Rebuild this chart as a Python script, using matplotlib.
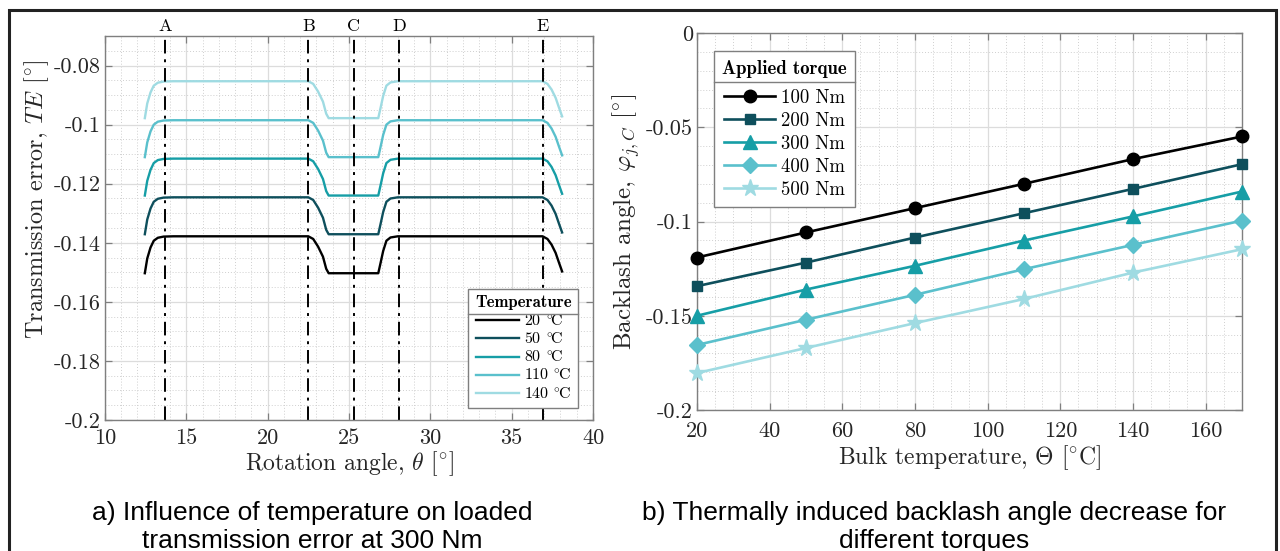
import matplotlib
matplotlib.use("Agg")
import matplotlib.pyplot as plt
from matplotlib.lines import Line2D
from matplotlib.patches import Rectangle
from matplotlib.ticker import FuncFormatter, MultipleLocator

plt.rcParams["font.family"] = "serif"
plt.rcParams["font.serif"] = ["cmr10", "DejaVu Serif"]
plt.rcParams["mathtext.fontset"] = "cm"
plt.rcParams["axes.unicode_minus"] = False

# ---- panel a: transmission error vs rotation angle ----
theta = [12.45, 12.6, 12.8, 13.0, 13.25, 13.6, 14.2, 22.5, 22.8, 23.1, 23.4, 23.6, 23.75,
         26.8, 26.95, 27.1, 27.3, 27.55, 28.0, 36.9, 37.2, 37.45, 37.7, 37.9, 38.1]
te_20 = [-0.1503, -0.1453, -0.1416, -0.1393, -0.1383, -0.1379, -0.1378, -0.1378, -0.1387,
         -0.1413, -0.1447, -0.1488, -0.1503, -0.1503, -0.1466, -0.1428, -0.1393, -0.1382,
         -0.1378, -0.1378, -0.1387, -0.1406, -0.1434, -0.1466, -0.1497]
te_50 = [-0.1371, -0.1321, -0.1284, -0.1261, -0.1251, -0.1247, -0.1246, -0.1246, -0.1255,
         -0.1281, -0.1315, -0.1356, -0.1371, -0.1371, -0.1334, -0.1296, -0.1261, -0.1250,
         -0.1246, -0.1246, -0.1255, -0.1274, -0.1302, -0.1334, -0.1365]
te_80 = [-0.1240, -0.1190, -0.1153, -0.1130, -0.1120, -0.1116, -0.1115, -0.1115, -0.1124,
         -0.1150, -0.1184, -0.1225, -0.1240, -0.1240, -0.1203, -0.1165, -0.1130, -0.1119,
         -0.1115, -0.1115, -0.1124, -0.1143, -0.1171, -0.1203, -0.1234]
te_110 = [-0.1110, -0.1060, -0.1023, -0.1000, -0.0990, -0.0986, -0.0985, -0.0985, -0.0994,
          -0.1020, -0.1054, -0.1095, -0.1110, -0.1110, -0.1073, -0.1035, -0.1000, -0.0989,
          -0.0985, -0.0985, -0.0994, -0.1013, -0.1041, -0.1073, -0.1104]
te_140 = [-0.0978, -0.0928, -0.0891, -0.0868, -0.0858, -0.0854, -0.0853, -0.0853, -0.0862,
          -0.0888, -0.0922, -0.0963, -0.0978, -0.0978, -0.0941, -0.0903, -0.0868, -0.0857,
          -0.0853, -0.0853, -0.0862, -0.0881, -0.0909, -0.0941, -0.0972]
temp_labels = [r"20 $^{\circ}\!$C", r"50 $^{\circ}\!$C", r"80 $^{\circ}\!$C",
               r"110 $^{\circ}\!$C", r"140 $^{\circ}\!$C"]
marker_names = ["A", "B", "C", "D", "E"]
marker_pos = [13.7, 22.5, 25.3, 28.1, 36.9]

# ---- panel b: backlash angle vs bulk temperature ----
bulk_temp = [20, 50, 80, 110, 140, 170]
bl_100 = [-0.1191, -0.1058, -0.0929, -0.0800, -0.0669, -0.0549]
bl_200 = [-0.1343, -0.1218, -0.1085, -0.0956, -0.0827, -0.0696]
bl_300 = [-0.1500, -0.1361, -0.1235, -0.1101, -0.0973, -0.0841]
bl_400 = [-0.1655, -0.1521, -0.1389, -0.1253, -0.1124, -0.0995]
bl_500 = [-0.1804, -0.1671, -0.1539, -0.1411, -0.1271, -0.1147]
torque_labels = ["100 Nm", "200 Nm", "300 Nm", "400 Nm", "500 Nm"]

colors = ["#000000", "#0e4f5c", "#169ea6", "#5ac0cc", "#9fdbe2"]
markers = ["o", "s", "^", "D", "*"]
msizes = [9, 7, 10, 8, 12.5]

TXT = "#262626"
fig = plt.figure(figsize=(12.8, 5.51), dpi=100)
ax1 = fig.add_axes([0.0820, 0.2377, 0.3813, 0.6969])
ax2 = fig.add_axes([0.5445, 0.2559, 0.4258, 0.6842])

fmt = FuncFormatter(lambda v, p: f"{v:g}")


def style_axes(ax, xpad):
    ax.grid(True, which="major", color="#dcdcdc", linewidth=0.9, linestyle="-")
    ax.grid(True, which="minor", color="#cfcfcf", linewidth=0.7, linestyle=(0, (1, 2)))
    ax.set_axisbelow(True)
    ax.tick_params(which="both", direction="in", top=True, right=True, colors="#7f7f7f",
                   labelcolor=TXT, labelsize=16)
    ax.tick_params(which="major", length=5, width=0.9)
    ax.tick_params(which="minor", length=0)
    ax.tick_params(axis="y", pad=3)
    ax.tick_params(axis="x", pad=xpad)
    for s in ax.spines.values():
        s.set_color("#7f7f7f")
        s.set_linewidth(1.0)
    ax.yaxis.set_major_formatter(fmt)
    ax.xaxis.set_major_formatter(fmt)


def fix_tick_fonts(ax):
    for t in ax.get_xticklabels() + ax.get_yticklabels():
        t.set_fontfamily("cmr10")


def legend_rule(leg):
    fig.canvas.draw()
    r = fig.canvas.get_renderer()
    fb = leg.get_frame().get_window_extent(r)
    tb = leg.get_title().get_window_extent(r)
    y = tb.y0 - 4
    inv = fig.transFigure.inverted()
    (x0, yy), (x1, _) = inv.transform([(fb.x0, y), (fb.x1, y)])
    fig.add_artist(Line2D([x0, x1], [yy, yy], color="#7f7f7f", linewidth=1.0))


# panel a
for vals, c, lab in zip([te_20, te_50, te_80, te_110, te_140], colors, temp_labels):
    ax1.plot(theta, vals, color=c, linewidth=1.7, label=lab)
for name, xp in zip(marker_names, marker_pos):
    ax1.axvline(xp, color="black", linewidth=1.4, linestyle=(0, (7, 3, 1.5, 3)))
    ax1.text(xp, 1.005, name, transform=ax1.get_xaxis_transform(), ha="center", va="bottom",
             fontsize=13, family="cmr10")
ax1.set_xlim(10, 40)
ax1.set_ylim(-0.2, -0.07)
ax1.xaxis.set_major_locator(MultipleLocator(5))
ax1.xaxis.set_minor_locator(MultipleLocator(1))
ax1.yaxis.set_minor_locator(MultipleLocator(0.005))
ax1.set_yticks([-0.2, -0.18, -0.16, -0.14, -0.12, -0.1, -0.08])
style_axes(ax1, 6)
ax1.set_xlabel(r"Rotation angle, $\theta$ [$^{\circ}$]", fontsize=17, color=TXT, labelpad=1)
ax1.set_ylabel(r"Transmission error, $TE$ [$^{\circ}$]", fontsize=17.5, color=TXT)
ax1.yaxis.set_label_coords(-0.110, 0.575)
leg1 = ax1.legend(loc="lower right", bbox_to_anchor=(0.969, 0.031), borderaxespad=0,
                  title="Temperature", title_fontproperties={"family": "cmb10", "size": 12},
                  fontsize=11.5, handlelength=2.7, handletextpad=0.3, labelspacing=0.16,
                  fancybox=False, edgecolor="#7f7f7f", framealpha=1, alignment="center")
leg1.get_frame().set_linewidth(1.0)

# panel b
for vals, c, m, ms, lab in zip([bl_100, bl_200, bl_300, bl_400, bl_500], colors, markers,
                               msizes, torque_labels):
    ax2.plot(bulk_temp, vals, color=c, linewidth=1.9, marker=m, markersize=ms, label=lab,
             clip_on=False, zorder=3)
ax2.set_xlim(20, 170)
ax2.set_ylim(-0.2, 0)
ax2.set_xticks([20, 40, 60, 80, 100, 120, 140, 160])
ax2.xaxis.set_minor_locator(MultipleLocator(5))
ax2.set_yticks([-0.2, -0.15, -0.1, -0.05, 0])
ax2.yaxis.set_minor_locator(MultipleLocator(0.01))
style_axes(ax2, 8)
ax2.set_xlabel(r"Bulk temperature, $\Theta$ [$^{\circ}$C]", fontsize=17, color=TXT, labelpad=2)
ax2.set_ylabel(r"Backlash angle, $\varphi_{j,C}$ [$^{\circ}$]", fontsize=18, color=TXT,
               labelpad=3)
leg2 = ax2.legend(loc="upper left", bbox_to_anchor=(0.031, 0.952), borderaxespad=0,
                  title="Applied torque", title_fontproperties={"family": "cmb10", "size": 13.5},
                  fontsize=13.5, handlelength=2.7, handletextpad=0.3, labelspacing=0.27,
                  borderpad=0.45, fancybox=False, edgecolor="#7f7f7f", framealpha=1,
                  alignment="center")
leg2.get_frame().set_linewidth(1.0)
leg2._legend_box.sep = 8

fix_tick_fonts(ax1)
fix_tick_fonts(ax2)
legend_rule(leg1)
legend_rule(leg2)

# captions
fig.text(0.244, 0.043, "a) Influence of temperature on loaded\ntransmission error at 300 Nm",
         ha="center", va="center", fontsize=19, family="Liberation Sans", linespacing=1.2)
fig.text(0.730, 0.043, "b) Thermally induced backlash angle decrease for\ndifferent torques",
         ha="center", va="center", fontsize=19, family="Liberation Sans", linespacing=1.2)

# outer frame
fig.add_artist(Rectangle((0.007, -0.1), 0.99, 1.082, transform=fig.transFigure, fill=False,
                         edgecolor="#222222", linewidth=2.2))

fig.savefig("out.png", dpi=100)
